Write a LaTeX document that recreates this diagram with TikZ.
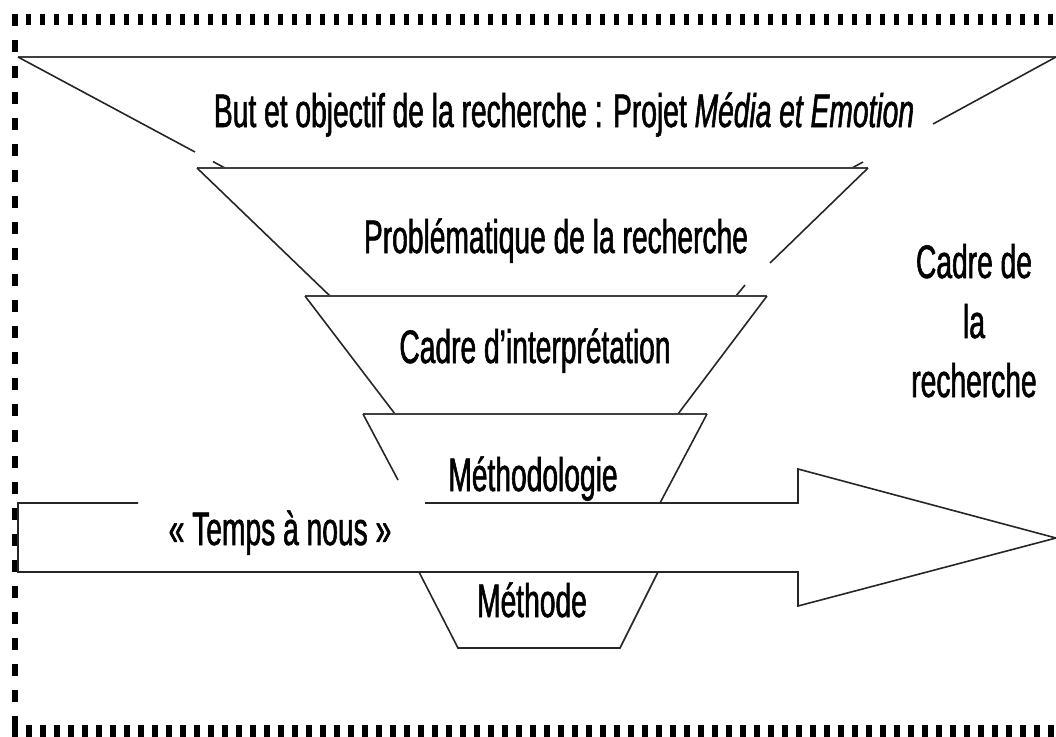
\documentclass[tikz,border=0pt]{standalone}
\usepackage{fontspec}
\setmainfont{Liberation Sans}[FakeStretch=0.6,FakeBold=1.2]
\begin{document}
\begin{tikzpicture}[x=1pt,y=-1pt,
  ln/.style={line width=1.6pt,draw=black!85,line join=miter},
  topln/.style={line width=2.2pt,draw=black!75},
  lbl/.style={anchor=base,inner sep=0pt,font=\fontsize{47}{56}\selectfont}]
\useasboundingbox (0,0) rectangle (1056,736);
% dotted frame
\draw[line width=11pt,dash pattern=on 5pt off 9pt] (12,19) -- (1070,19);
\draw[line width=6pt,dash pattern=on 12pt off 14pt] (14.5,14) -- (14.5,730);
\draw[line width=13pt,dash pattern=on 6pt off 8pt] (12,731) -- (1070,731);
% funnel level 1
\draw[topln] (18,57) -- (1056,57);
\draw[ln] (18,57) -- (195,152);
\draw[ln] (213,161.6) -- (225,168);
\draw[ln] (1056,57) -- (933,124);
\draw[ln] (863,162) -- (852,168);
% level 2
\draw[topln] (197,168) -- (868,168);
\draw[ln] (197,168) -- (330,296);
\draw[ln] (868,168) -- (770,263);
\draw[ln] (745,285) -- (736,296);
% level 3
\draw[topln] (305,296) -- (767,296);
\draw[ln] (305,296) -- (395,414);
\draw[ln] (767,296) -- (678,414);
% level 4
\draw[topln] (363,414) -- (707,414);
\draw[ln] (363,414) -- (398,480);
\draw[ln] (707,414) -- (660,503);
% arrow
\draw[ln] (138,503) -- (18,503) -- (18,572) -- (798,572) -- (798,606) -- (1056,538) -- (798,469) -- (798,503) -- (425,503);
% level 5
\draw[ln] (419,572) -- (458,648) -- (620,648) -- (658,572);
% texts
\node[lbl] (t1) at (564,127) {But et objectif de la recherche\,: Projet \textit{Média et Emotion}};
\node[lbl] (t2) at (556,253) {Problématique de la recherche};
\node[lbl] (t3) at (535,363) {Cadre d’interprétation};
\node[lbl] (t4) at (533,491) {Méthodologie};
\node[lbl] (t5) at (280,545) {« Temps à nous »};
\node[lbl] (t6) at (532,617) {Méthode};
\node[lbl] (r1) at (974,278) {Cadre de};
\node[lbl] (r2) at (974,338) {la};
\node[lbl] (r3) at (974,397) {recherche};
\end{tikzpicture}
\end{document}
